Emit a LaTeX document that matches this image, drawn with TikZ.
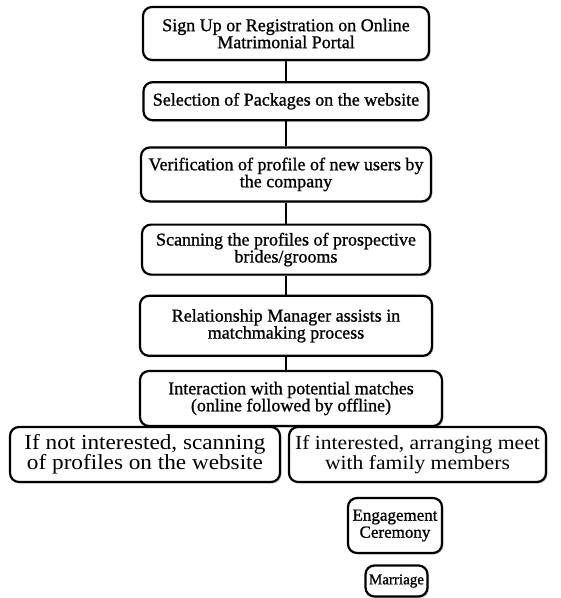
\documentclass[tikz,border=0pt]{standalone}
\usepackage{fontspec}
\setmainfont[FakeBold=1]{Liberation Serif}
\newfontfamily\widefont[FakeStretch=1.08]{Liberation Serif}
\usepackage{tikz}
\usetikzlibrary{positioning,shadows}

\begin{document}
\begin{tikzpicture}[
    x=1pt,y=1pt,
    node distance=20pt,
    stage/.style={rectangle,rounded corners=9pt,draw=black,line width=2.2pt,fill=white,
                  drop shadow={opacity=0.35,shadow xshift=1.5pt,shadow yshift=-1.5pt},
                  align=center,inner sep=2pt,font=\fontsize{18}{17}\selectfont},
    choice/.style={stage,minimum height=55pt,font=\widefont\fontsize{20}{20}\selectfont},
    link/.style={line width=2pt,draw=black}
]
\useasboundingbox (0,0) rectangle (561,-598);

\node[stage,minimum width=286pt,minimum height=53pt] (signup) at (286,-33.5)
    {Sign Up or Registration on Online\\Matrimonial Portal};
\node[stage,below=20pt of signup,minimum width=285pt,minimum height=38pt] (packages)
    {Selection of Packages on the website};
\node[stage,below=25pt of packages,minimum width=290pt,minimum height=54pt] (verify)
    {Verification of profile of new users by\\the company};
\node[stage,below=21pt of verify,minimum width=288pt,minimum height=50pt] (scan)
    {Scanning the profiles of prospective\\brides/grooms};
\node[stage,below=19pt of scan,minimum width=292pt,minimum height=60pt] (manager)
    {Relationship Manager assists in\\matchmaking process};
\node[stage,below=13pt of manager,xshift=5pt,minimum width=302pt,minimum height=55pt] (interact)
    {Interaction with potential matches\\(online followed by offline)};

\node[choice,minimum width=270pt,font=\widefont\fontsize{21.5}{20}\selectfont] (notint) at (145,-454.5)
    {If not interested, scanning\\of profiles on the website};
\node[choice,minimum width=257pt] (yesint) at (417.5,-454.5)
    {If interested, arranging meet\\with family members};

\node[stage,minimum width=94pt,minimum height=55pt,font=\fontsize{17}{17}\selectfont] (engage) at (395,-525.5)
    {Engagement\\Ceremony};
\node[stage,minimum width=62pt,minimum height=31pt,font=\fontsize{15}{15}\selectfont] (marriage) at (396.5,-581)
    {Marriage};

\draw[link] (signup.south) -- (signup.south |- packages.north);
\draw[link] (packages.south) -- (packages.south |- verify.north);
\draw[link] (verify.south) -- (verify.south |- scan.north);
\draw[link] (scan.south) -- (scan.south |- manager.north);
\draw[link] (manager.south) -- (manager.south |- interact.north);
\end{tikzpicture}
\end{document}
